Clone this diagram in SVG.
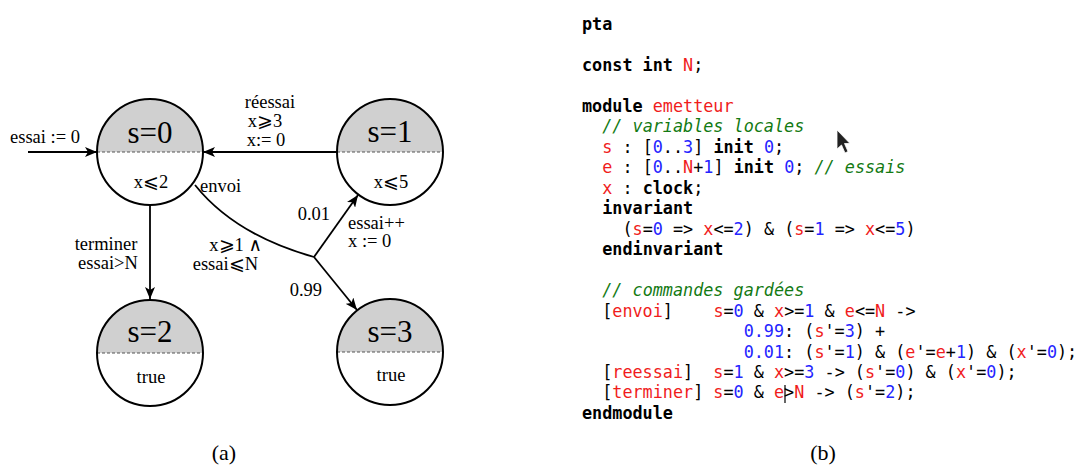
<svg xmlns="http://www.w3.org/2000/svg" width="1081" height="466" viewBox="0 0 1081 466">
<style>
.st{fill:none;stroke:#000;stroke-width:2}
.top{fill:#d0d0d0;stroke:none}
.dash{stroke:#555;stroke-width:1.2;stroke-dasharray:3 2}
.lbl{font-family:"Liberation Serif","DejaVu Serif",serif;font-size:18.5px;fill:#000}
.big{font-size:31px}
.cap{font-size:22px}
.code{font-family:"DejaVu Sans Mono",monospace;font-size:16.8px;fill:#000;white-space:pre}
.k{font-weight:bold}
.r{fill:#f01c1c}
.b{fill:#2424ff}
.c{fill:#137a13;font-style:italic}
.edge{fill:none;stroke:#000;stroke-width:1.8}
</style>
<defs>
<marker id="ah" viewBox="0 0 12 10" refX="12" refY="5" markerWidth="12" markerHeight="10" markerUnits="userSpaceOnUse" orient="auto">
<path d="M0,0 L12,5 L0,10 L3,5 Z" fill="#000"/>
</marker>
</defs>
<rect width="1081" height="466" fill="#fff"/>

<g id="connectors">
<line class="edge" x1="28" y1="152" x2="97" y2="152" marker-end="url(#ah)"/>
<line class="edge" x1="337" y1="152" x2="203" y2="152" marker-end="url(#ah)"/>
<path class="edge" d="M195,185 Q235,235 314,257"/>
<line class="edge" x1="314" y1="257" x2="358" y2="195" marker-end="url(#ah)"/>
<line class="edge" x1="314" y1="257" x2="357" y2="310" marker-end="url(#ah)"/>
<line class="edge" x1="150" y1="205" x2="150" y2="299" marker-end="url(#ah)"/>
<text class="lbl" x="10" y="143">essai := 0</text>
<text class="lbl" x="270" y="108" text-anchor="middle">réessai</text>
<text class="lbl" x="265" y="127" text-anchor="middle" font-size="15">x⩾3</text>
<text class="lbl" x="266" y="146" text-anchor="middle">x:= 0</text>
<text class="lbl" x="200" y="192">envoi</text>
<text class="lbl" x="330" y="220" text-anchor="end">0.01</text>
<text class="lbl" x="348" y="229">essai++</text>
<text class="lbl" x="348" y="247">x := 0</text>
<text class="lbl" x="262" y="251" text-anchor="end">x⩾1 ∧</text>
<text class="lbl" x="258" y="270" text-anchor="end">essai⩽N</text>
<text class="lbl" x="322" y="296" text-anchor="end">0.99</text>
<text class="lbl" x="106" y="250" text-anchor="middle">terminer</text>
<text class="lbl" x="108" y="269" text-anchor="middle">essai&gt;N</text>
</g>

<g id="s0">
<path class="top" d="M97,152 A53,53 0 0 1 203,152 Z"/>
<line class="dash" x1="97" y1="152" x2="203" y2="152"/>
<circle class="st" cx="150" cy="152" r="53"/>
<text class="lbl big" x="150" y="143" text-anchor="middle">s=0</text>
<text class="lbl" x="151" y="188" text-anchor="middle">x⩽2</text>
</g>
<g id="s1">
<path class="top" d="M337,152 A53,53 0 0 1 443,152 Z"/>
<line class="dash" x1="337" y1="152" x2="443" y2="152"/>
<circle class="st" cx="390" cy="152" r="53"/>
<text class="lbl big" x="390" y="142" text-anchor="middle">s=1</text>
<text class="lbl" x="391" y="188" text-anchor="middle">x⩽5</text>
</g>
<g id="s2">
<path class="top" d="M97,353 A53,53 0 0 1 203,353 Z"/>
<line class="dash" x1="97" y1="353" x2="203" y2="353"/>
<circle class="st" cx="150" cy="353" r="53"/>
<text class="lbl big" x="150" y="342" text-anchor="middle">s=2</text>
<text class="lbl" x="151" y="383" text-anchor="middle">true</text>
</g>
<g id="s3">
<path class="top" d="M337,352 A53,53 0 0 1 443,352 Z"/>
<line class="dash" x1="337" y1="352" x2="443" y2="352"/>
<circle class="st" cx="390" cy="352" r="53"/>
<text class="lbl big" x="390" y="342" text-anchor="middle">s=3</text>
<text class="lbl" x="391" y="381" text-anchor="middle">true</text>
</g>
<text class="lbl cap" x="224" y="460" text-anchor="middle">(a)</text>

<g id="code" class="code">
<text xml:space="preserve" x="582" y="30"><tspan class="k">pta</tspan></text>
<text xml:space="preserve" x="582" y="71"><tspan class="k">const int</tspan> <tspan class="r">N</tspan>;</text>
<text xml:space="preserve" x="582" y="112"><tspan class="k">module</tspan> <tspan class="r">emetteur</tspan></text>
<text xml:space="preserve" x="582" y="132">  <tspan class="c">// variables locales</tspan></text>
<text xml:space="preserve" x="582" y="153">  <tspan class="r">s</tspan> : [<tspan class="b">0</tspan>..<tspan class="b">3</tspan>] <tspan class="k">init</tspan> <tspan class="b">0</tspan>;</text>
<text xml:space="preserve" x="582" y="173">  <tspan class="r">e</tspan> : [<tspan class="b">0</tspan>..<tspan class="r">N</tspan>+<tspan class="b">1</tspan>] <tspan class="k">init</tspan> <tspan class="b">0</tspan>; <tspan class="c">// essais</tspan></text>
<text xml:space="preserve" x="582" y="194">  <tspan class="r">x</tspan> : <tspan class="k">clock</tspan>;</text>
<text xml:space="preserve" x="582" y="214">  <tspan class="k">invariant</tspan></text>
<text xml:space="preserve" x="582" y="235">    (<tspan class="r">s</tspan>=<tspan class="b">0</tspan> =&gt; <tspan class="r">x</tspan>&lt;=<tspan class="b">2</tspan>) &amp; (<tspan class="r">s</tspan>=<tspan class="b">1</tspan> =&gt; <tspan class="r">x</tspan>&lt;=<tspan class="b">5</tspan>)</text>
<text xml:space="preserve" x="582" y="255">  <tspan class="k">endinvariant</tspan></text>
<text xml:space="preserve" x="582" y="296">  <tspan class="c">// commandes gardées</tspan></text>
<text xml:space="preserve" x="582" y="317">  [<tspan class="r">envoi</tspan>]    <tspan class="r">s</tspan>=<tspan class="b">0</tspan> &amp; <tspan class="r">x</tspan>&gt;=<tspan class="b">1</tspan> &amp; <tspan class="r">e</tspan>&lt;=<tspan class="r">N</tspan> -&gt;</text>
<text xml:space="preserve" x="582" y="337">                <tspan class="b">0.99</tspan>: (<tspan class="r">s</tspan>'=<tspan class="b">3</tspan>) +</text>
<text xml:space="preserve" x="582" y="358">                <tspan class="b">0.01</tspan>: (<tspan class="r">s</tspan>'=<tspan class="b">1</tspan>) &amp; (<tspan class="r">e</tspan>'=<tspan class="r">e</tspan>+<tspan class="b">1</tspan>) &amp; (<tspan class="r">x</tspan>'=<tspan class="b">0</tspan>);</text>
<text xml:space="preserve" x="582" y="378">  [<tspan class="r">reessai</tspan>]  <tspan class="r">s</tspan>=<tspan class="b">1</tspan> &amp; <tspan class="r">x</tspan>&gt;=<tspan class="b">3</tspan> -&gt; (<tspan class="r">s</tspan>'=<tspan class="b">0</tspan>) &amp; (<tspan class="r">x</tspan>'=<tspan class="b">0</tspan>);</text>
<text xml:space="preserve" x="582" y="398">  [<tspan class="r">terminer</tspan>] <tspan class="r">s</tspan>=<tspan class="b">0</tspan> &amp; <tspan class="r">e</tspan>&gt;<tspan class="r">N</tspan> -&gt; (<tspan class="r">s</tspan>'=<tspan class="b">2</tspan>);</text>
<text xml:space="preserve" x="582" y="419"><tspan class="k">endmodule</tspan></text>
</g>
<line x1="785" y1="385" x2="785" y2="403" stroke="#000" stroke-width="1.2"/>
<path d="M837,130 L837,149 L841.5,145 L845,153 L848,151.5 L844.5,143.5 L850,143.5 Z" fill="#222" stroke="#fff" stroke-width="0.8"/>
<text class="lbl cap" x="823" y="460" text-anchor="middle">(b)</text>
</svg>
